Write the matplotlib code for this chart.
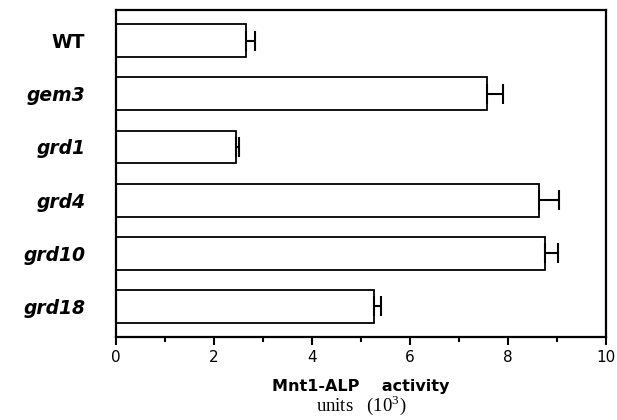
import matplotlib
matplotlib.use('Agg')
import matplotlib.pyplot as plt
from matplotlib.ticker import MultipleLocator

# data
strains = ['WT', 'gem3', 'grd1', 'grd4', 'grd10', 'grd18']
activity = [2.65, 7.57, 2.45, 8.64, 8.76, 5.26]
sem = [0.19, 0.34, 0.07, 0.40, 0.26, 0.16]

fig = plt.figure(figsize=(6.17, 4.2), dpi=100)
ax = fig.add_axes([0.1875, 0.1976, 0.7945, 0.7786])

pos = list(range(len(strains)))
ax.barh(pos, activity, height=0.62, color='white', edgecolor='black', linewidth=1.3)
ax.errorbar(activity, pos, xerr=[[0] * len(sem), sem], fmt='none',
            ecolor='black', elinewidth=1.5, capsize=7, capthick=1.5)

ax.set_xlim(0, 10)
ax.set_ylim(5.58, -0.58)
ax.xaxis.set_major_locator(MultipleLocator(2))
ax.xaxis.set_minor_locator(MultipleLocator(1))
ax.tick_params(axis='x', which='major', length=6, width=1.5, labelsize=11, pad=3)
ax.tick_params(axis='x', which='minor', length=3.5, width=1.5)
ax.tick_params(axis='y', length=0, pad=22)
for s in ax.spines.values():
    s.set_linewidth(1.6)

ax.set_yticks(pos)
ax.set_yticklabels(strains, fontsize=13.5, fontweight='bold')
for lab in ax.get_yticklabels()[1:]:
    lab.set_style('italic')

fig.text(0.585, 0.079, 'Mnt1-ALP    activity', ha='center', va='center',
         fontsize=11.5, fontweight='bold')
fig.text(0.585, 0.006, r'units   (10$^{\mathregular{3}}$)', ha='center', va='bottom',
         fontsize=13.5, family='Liberation Serif', math_fontfamily='stix')

fig.savefig('out.png', dpi=100)
